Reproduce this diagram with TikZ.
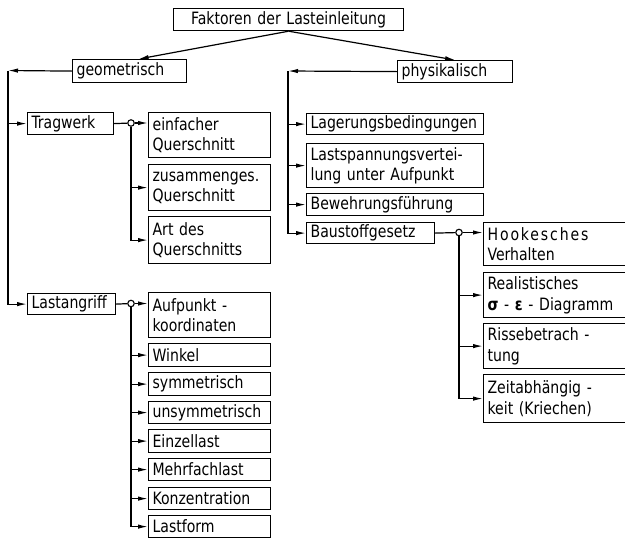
\documentclass[tikz,border=0pt]{standalone}
\usepackage{fontspec}
\setmainfont[FakeStretch=0.92]{DejaVu Sans Condensed}
\usetikzlibrary{arrows.meta, positioning, calc}

\tikzset{
  box/.style={draw, line width=1.2pt, anchor=north west, inner ysep=0pt, inner xsep=4pt,
    align=left, text width=#1, font=\fontsize{17}{20.5}\selectfont},
  arr/.style={line width=1.2pt, -{Latex[length=10pt,width=4.4pt]}},
  circ/.style={draw, circle, line width=1.1pt, fill=white, inner sep=0pt, minimum size=6.5pt},
}

\begin{document}
\begin{tikzpicture}[x=1pt, y=-1pt]
    \useasboundingbox (0,0) rectangle (625,539);

    % Root
    \node[box=226pt, inner xsep=2pt, minimum height=22pt, align=center] (root) at (173,8) {Faktoren der Lasteinleitung};

    % Geometrisch
    \node[box=106pt, minimum height=23pt] (geo) at (72,59) {geometrisch};
    \node[box=78pt, minimum height=22pt] (trag) at (27,112) {Tragwerk};
    \node[box=80pt, minimum height=21pt] (last) at (27,293) {Lastangriff};

    % Tragwerk children
    \node[box=114pt, minimum height=45pt] (einf) at (148,112) {einfacher\\Querschnitt};
    \node[box=114pt, minimum height=46pt] (zus) at (148,164) {zusammenges.\\Querschnitt};
    \node[box=114pt, minimum height=47pt] (art) at (148,216) {Art des\\Querschnitts};

    % Lastangriff children
    \node[box=114pt, minimum height=45pt] (auf) at (148,292) {Aufpunkt -\\koordinaten};
    \node[box=114pt, minimum height=23pt] (wink) at (148,343) {Winkel};
    \node[box=114pt, minimum height=23pt] (sym) at (148,372) {symmetrisch};
    \node[box=114pt, minimum height=22pt] (unsym) at (148,401) {unsymmetrisch};
    \node[box=114pt, minimum height=23pt] (einz) at (148,429) {Einzellast};
    \node[box=114pt, minimum height=22pt] (mehr) at (148,458) {Mehrfachlast};
    \node[box=114pt, minimum height=22pt] (konz) at (148,487) {Konzentration};
    \node[box=114pt, minimum height=22pt] (lform) at (148,515) {Lastform};

    % Physikalisch
    \node[box=107pt, minimum height=22pt] (phys) at (397,60) {physikalisch};
    \node[box=169pt, minimum height=21pt] (lager) at (306,113) {Lagerungsbedingungen};
    \node[box=169pt, minimum height=44pt] (lastsp) at (306,143) {Lastspannungsvertei-\\lung unter Aufpunkt};
    \node[box=169pt, minimum height=22pt] (bew) at (306,193) {Bewehrungsführung};
    \node[box=120pt, minimum height=21pt] (baust) at (306,222) {Baustoffgesetz};

    % Baustoffgesetz children
    \node[box=137pt, minimum height=43pt] (hook) at (483,222) {{\addfontfeature{LetterSpace=11}Hookesches}\\Verhalten};
    \node[box=137pt, minimum height=45pt] (real) at (483,272) {Realistisches\\{\bfseries σ} - {\bfseries ε} - Diagramm};
    \node[box=137pt, minimum height=45pt] (riss) at (483,323) {Rissebetrach -\\tung};
    \node[box=137pt, minimum height=48pt] (zeit) at (483,374) {Zeitabhängig -\\keit (Kriechen)};

    % Root arrows
    \draw[arr] (root.south) -- ([xshift=9pt]geo.north);
    \draw[arr] (root.south) -- (phys.north);

    % Left trunk
    \coordinate (gl) at (8,70.5);
    \draw[arr] (geo.west) -- (gl);
    \draw[arr] (gl) |- (last.west);
    \draw[arr] (gl |- trag.west) -- (trag.west);

    % Tragwerk branch
    \node[circ] (c1) at (131,123) {};
    \draw[line width=1.2pt] (trag.east) -- (c1);
    \draw[arr] (c1) -- (c1 -| einf.west);
    \draw[arr] (c1.south) |- (art.west);
    \draw[arr] (c1 |- zus.west) -- (zus.west);

    % Lastangriff branch
    \node[circ] (c2) at (131,303.5) {};
    \draw[line width=1.2pt] (last.east) -- (c2);
    \draw[arr] (c2) -- (c2 -| auf.west);
    \draw[arr] (c2.south) |- (lform.west);
    \foreach \n in {wink, sym, unsym, einz, mehr, konz}
        \draw[arr] (c2 |- \n.west) -- (\n.west);

    % Right trunk
    \coordinate (pl) at (288,71);
    \draw[arr] (phys.west) -- (pl);
    \draw[arr] (pl) |- (baust.west);
    \foreach \n in {lager, lastsp, bew}
        \draw[arr] (pl |- \n.west) -- (\n.west);

    % Baustoffgesetz branch
    \node[circ] (c3) at (459,232.5) {};
    \draw[line width=1.2pt] (baust.east) -- (c3);
    \draw[arr] (c3) -- (c3 -| hook.west);
    \draw[arr] (c3.south) |- (zeit.west);
    \foreach \n in {real, riss}
        \draw[arr] (c3 |- \n.west) -- (\n.west);

\end{tikzpicture}
\end{document}
